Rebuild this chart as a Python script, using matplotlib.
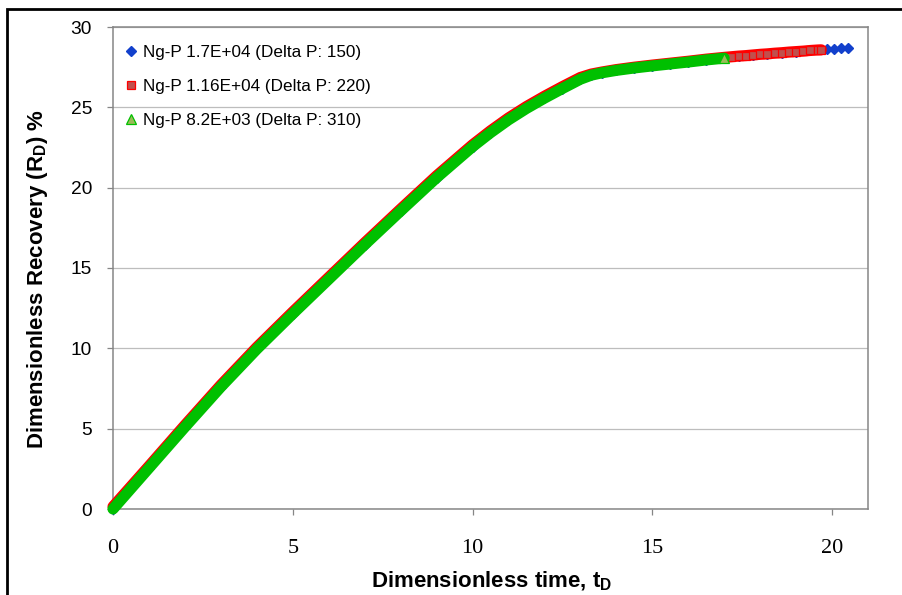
import matplotlib.pyplot as plt
from matplotlib.lines import Line2D
from matplotlib.patches import Rectangle

plt.rcParams['mathtext.fontset'] = 'custom'
plt.rcParams['mathtext.rm'] = 'Liberation Sans'
plt.rcParams['mathtext.bf'] = 'Liberation Sans:bold'

# Dimensionless time / recovery for the three Ng-P runs
t_green = [0, 1.0, 2.0, 3.0, 4.0, 5.0, 6.0, 7.0, 8.0, 9.0, 10.0, 10.5, 11.0, 11.5,
           12.0, 12.5, 13.0, 13.3, 13.6, 14.0, 14.5, 15.0, 15.5, 16.0, 16.5, 17.0]
r_green = [0, 2.55, 5.1, 7.6, 9.95, 12.15, 14.3, 16.45, 18.55, 20.62, 22.55, 23.42, 24.22, 24.93,
           25.57, 26.17, 26.75, 27.0, 27.15, 27.3, 27.45, 27.58, 27.7, 27.82, 27.95, 28.06]

t_red = [0, 1.0, 2.0, 3.0, 4.0, 5.0, 6.0, 7.0, 8.0, 9.0, 10.0, 10.5, 11.0, 11.5,
         12.0, 12.5, 13.0, 13.3, 13.6, 14.0, 14.5, 15.0, 15.5, 16.0, 16.5, 17.0,
         17.2, 17.4, 17.6, 17.8, 18.0, 18.2, 18.4, 18.6, 18.8, 19.0, 19.2, 19.4, 19.6, 19.7]
r_red = [0.15, 2.67, 5.22, 7.72, 10.07, 12.27, 14.42, 16.57, 18.67, 20.74, 22.67, 23.54, 24.34, 25.05,
         25.69, 26.29, 26.86, 27.07, 27.2, 27.35, 27.5, 27.63, 27.75, 27.87, 28.0, 28.11,
         28.15, 28.19, 28.22, 28.26, 28.3, 28.33, 28.37, 28.4, 28.44, 28.47, 28.5, 28.54, 28.57, 28.58]

t_blue = [0, 1.0, 2.0, 3.0, 4.0, 5.0, 6.0, 7.0, 8.0, 9.0, 10.0, 10.5, 11.0, 11.5,
          12.0, 12.5, 13.0, 13.3, 13.6, 14.0, 14.5, 15.0, 15.5, 16.0, 16.5, 17.0,
          17.4, 17.8, 18.2, 18.6, 19.0, 19.4, 19.85, 20.05, 20.25, 20.45]
r_blue = [0, 2.55, 5.1, 7.6, 9.95, 12.15, 14.3, 16.45, 18.55, 20.62, 22.55, 23.42, 24.22, 24.93,
          25.57, 26.17, 26.75, 27.0, 27.15, 27.3, 27.45, 27.58, 27.7, 27.82, 27.95, 28.06,
          28.19, 28.26, 28.33, 28.4, 28.47, 28.54, 28.62, 28.65, 28.69, 28.72]

labels = ['Ng-P 1.7E+04 (Delta P: 150)',
          'Ng-P 1.16E+04 (Delta P: 220)',
          'Ng-P 8.2E+03 (Delta P: 310)']

blue = '#1240CC'
red_edge, red_fill = '#FF0000', '#C0504D'
green_edge, green_fill = '#00C000', '#9BBB59'
band = 8

fig = plt.figure(figsize=(9.02, 5.95), dpi=100)
ax = fig.add_axes([113 / 902, 1 - 509 / 595, 755 / 902, 482 / 595])

# blue run sits underneath, only its tail shows past the others
ax.plot(t_blue, r_blue, ls='none', marker='D', ms=4.6, mfc=blue, mec=blue, zorder=2,
        clip_on=False)

# red and green runs are so dense the markers merge into a band
ax.plot(t_red, r_red, '-', color=red_edge, lw=band, solid_capstyle='round',
        solid_joinstyle='round', zorder=3, clip_on=False)
ax.plot(t_red, r_red, ls='none', marker='s', ms=5.8, mfc=red_fill, mec=red_edge,
        mew=0.9, markevery=slice(26, None), zorder=3, clip_on=False)
ax.plot(t_green, r_green, '-', color=green_edge, lw=band, solid_capstyle='round',
        solid_joinstyle='round', zorder=4, clip_on=False)
ax.plot(t_green, r_green, ls='none', marker='^', ms=6.5, mfc=green_fill, mec=green_edge,
        mew=0.9, markevery=[len(t_green) - 1], zorder=4, clip_on=False)

ax.set_xlim(0, 21)
ax.set_ylim(0, 30)
ax.set_xticks([0, 5, 10, 15, 20])
ax.set_yticks([0, 5, 10, 15, 20, 25, 30])
ax.grid(axis='y', color='#BDBDBD', lw=0.9)
ax.set_axisbelow(True)
for s in ax.spines.values():
    s.set_color('#868686')
    s.set_linewidth(1.1)
ax.tick_params(axis='y', direction='out', length=4.3, width=0.9, color='#868686', pad=10.8)
ax.tick_params(axis='x', direction='out', length=4.3, width=0.9, color='#868686', pad=17.5)
for lab in ax.get_yticklabels():
    lab.set_fontfamily('Liberation Sans')
    lab.set_fontsize(13.8)
for lab in ax.get_xticklabels():
    lab.set_fontfamily('Liberation Serif')
    lab.set_fontsize(16)

fig.text(492 / 902, 1 - 587 / 595, r'Dimensionless time, t$_{\mathbf{D}}$',
         ha='center', va='baseline', fontsize=16, fontweight='bold', family='Liberation Sans')
fig.text(38 / 902, 1 - 279 / 595, r'Dimensionless Recovery (R$_{\mathbf{D}}$) %',
         ha='center', va='center', rotation=90, fontsize=16, fontweight='bold',
         family='Liberation Sans')

handles = [
    Line2D([], [], ls='none', marker='D', ms=5, mfc=blue, mec=blue),
    Line2D([], [], ls='none', marker='s', ms=6, mfc=red_fill, mec=red_edge, mew=0.9),
    Line2D([], [], ls='none', marker='^', ms=6.5, mfc=green_fill, mec=green_edge, mew=0.9),
]
ax.legend(handles, labels, loc='upper left', bbox_to_anchor=(0.008, 0.977), frameon=False,
          prop={'family': 'Liberation Sans', 'size': 12.3}, handlelength=0.6,
          handletextpad=0.4, labelspacing=1.1, borderaxespad=0)

# black frame round the chart area
fig.patches.append(Rectangle((7.2 / 902, -0.05), 1.2, 1.05 - 8.7 / 595, transform=fig.transFigure,
                             fill=False, ec='black', lw=2))

fig.savefig('out.png', dpi=100)
